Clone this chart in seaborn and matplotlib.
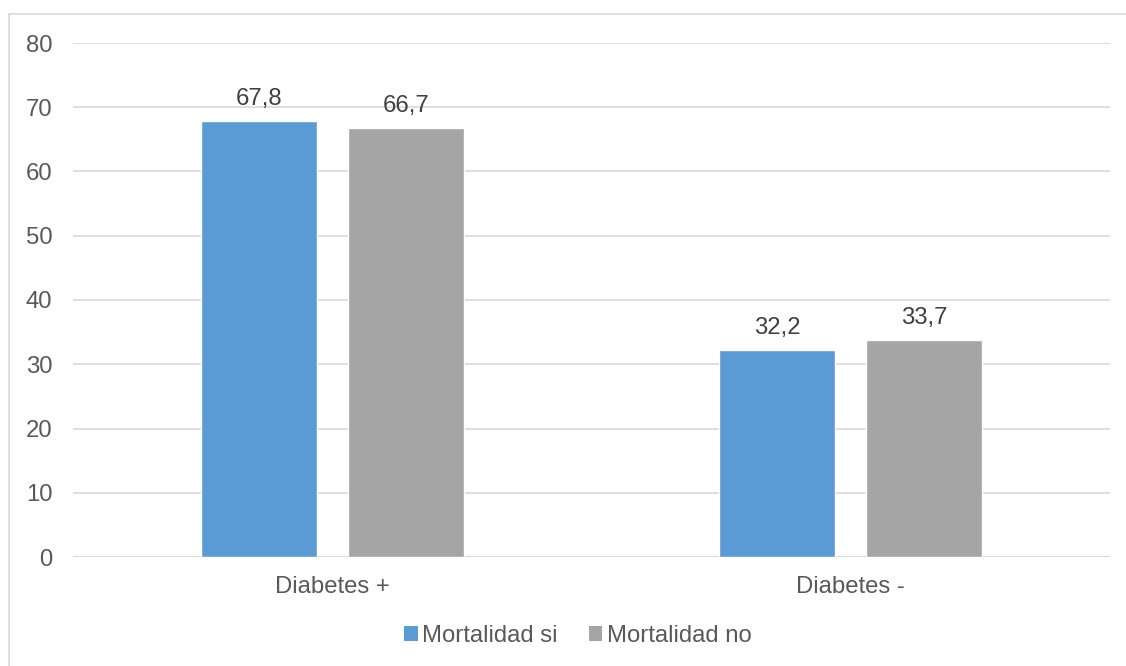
import matplotlib
matplotlib.use("Agg")
import matplotlib.pyplot as plt
from matplotlib.patches import Rectangle, Patch
import pandas as pd
import seaborn as sns

categories = ["Diabetes +", "Diabetes -"]
series_names = ["Mortalidad si", "Mortalidad no"]
mortalidad_si = [67.8, 32.2]
mortalidad_no = [66.7, 33.7]
y_ticks = [0, 10, 20, 30, 40, 50, 60, 70, 80]

colors = ["#5B9BD5", "#A5A5A5"]
text_color = "#595959"
grid_color = "#D9D9D9"
fs = 17.2

df = pd.DataFrame({
    "grupo": categories * 2,
    "serie": [series_names[0]] * 2 + [series_names[1]] * 2,
    "valor": mortalidad_si + mortalidad_no,
})

sns.set_theme(style="white")
plt.rcParams["font.family"] = ["Liberation Sans", "DejaVu Sans"]

fig = plt.figure(figsize=(11.26, 6.66), dpi=100)
ax = fig.add_axes([73 / 1126, 1 - 557 / 666, (1110 - 73) / 1126, (557 - 43) / 666])

sns.barplot(data=df, x="grupo", y="valor", hue="serie", order=categories,
            hue_order=series_names, palette=colors, width=0.567, gap=0.21,
            saturation=1, ax=ax, legend=False, zorder=3)

ax.set_xlim(-0.5, 1.5)
ax.set_ylim(0, 80)
ax.set_yticks(y_ticks)
ax.set_yticklabels([str(t) for t in y_ticks])
ax.yaxis.grid(True, color=grid_color, linewidth=1.2, zorder=0)
ax.set_axisbelow(True)
for s in ax.spines.values():
    s.set_visible(False)
ax.tick_params(axis="both", length=0, labelsize=fs, labelcolor=text_color)
ax.tick_params(axis="y", pad=15)
ax.tick_params(axis="x", pad=14)
ax.set_xlabel("")
ax.set_ylabel("")
ax.axhline(0, color=grid_color, linewidth=1.5, zorder=1)

for container in ax.containers:
    labels = [f"{b.get_height():.1f}".replace(".", ",") for b in container]
    ax.bar_label(container, labels=labels, padding=8, fontsize=fs, color="#404040")

handles = [Patch(facecolor=c, edgecolor="none") for c in colors]
fig.legend(handles, series_names, loc="center", bbox_to_anchor=(578 / 1126, 1 - 636 / 666),
           ncol=2, frameon=False, fontsize=fs, labelcolor=text_color,
           handlelength=0.55, handleheight=0.55, handletextpad=0.2, columnspacing=1.3)

# outer chart frame
fig.add_artist(Rectangle((9 / 1126, -0.1), 1.2, 1 - 14 / 666 + 0.1, transform=fig.transFigure,
                         fill=False, edgecolor="#D9D9D9", linewidth=1.2))

fig.savefig("out.png", dpi=100)
